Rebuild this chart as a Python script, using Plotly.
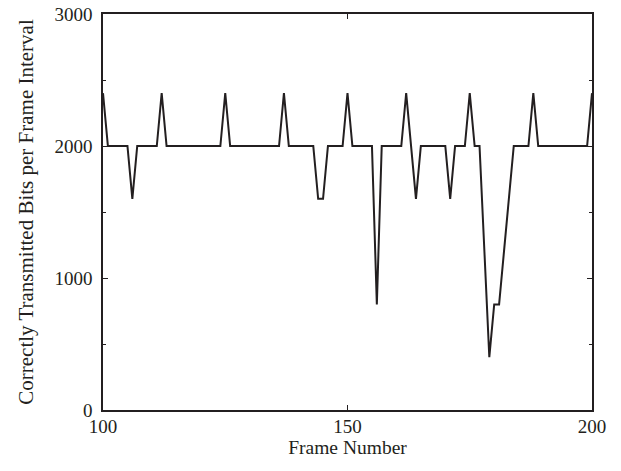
import plotly.graph_objects as go

# Frame indices and the bits delivered in each frame interval
frames = list(range(100, 201))
bits = [
    2400, 2000, 2000, 2000, 2000, 2000, 1600, 2000, 2000, 2000,  # 100-109
    2000, 2000, 2400, 2000, 2000, 2000, 2000, 2000, 2000, 2000,  # 110-119
    2000, 2000, 2000, 2000, 2000, 2400, 2000, 2000, 2000, 2000,  # 120-129
    2000, 2000, 2000, 2000, 2000, 2000, 2000, 2400, 2000, 2000,  # 130-139
    2000, 2000, 2000, 2000, 1600, 1600, 2000, 2000, 2000, 2000,  # 140-149
    2400, 2000, 2000, 2000, 2000, 2000, 800, 2000, 2000, 2000,   # 150-159
    2000, 2000, 2400, 2000, 1600, 2000, 2000, 2000, 2000, 2000,  # 160-169
    2000, 1600, 2000, 2000, 2000, 2400, 2000, 2000, 1200, 400,   # 170-179
    800, 800, 1200, 1600, 2000, 2000, 2000, 2000, 2400, 2000,    # 180-189
    2000, 2000, 2000, 2000, 2000, 2000, 2000, 2000, 2000, 2000,  # 190-199
    2400,                                                        # 200
]

x_ticks = [100, 150, 200]
y_ticks = [0, 1000, 2000, 3000]
y_minor = [500, 1500, 2500]

ink = "#231f20"
serif = "Liberation Serif, Times New Roman, serif"

fig = go.Figure(
    go.Scatter(
        x=frames,
        y=bits,
        mode="lines",
        line=dict(color=ink, width=2),
        hoverinfo="x+y",
    )
)

axis_common = dict(
    automargin=False,
    showline=True,
    linecolor=ink,
    linewidth=1.6,
    mirror="ticks",
    ticks="inside",
    tickcolor=ink,
    tickwidth=1.2,
    showgrid=False,
    zeroline=False,
    tickfont=dict(family=serif, size=19, color=ink),
)

fig.update_xaxes(
    range=[100, 200],
    tickvals=x_ticks,
    ticktext=[str(v) for v in x_ticks],
    ticklen=5,
    ticklabelstandoff=-2,
    title=dict(text="Frame Number", font=dict(family=serif, size=19.5, color=ink), standoff=0),
    **axis_common,
)
fig.update_yaxes(
    range=[0, 3000],
    tickvals=y_ticks,
    ticktext=[str(v) for v in y_ticks],
    ticklen=5,
    ticklabelstandoff=5,
    minor=dict(tickvals=y_minor, ticks="inside", ticklen=3, tickcolor=ink, tickwidth=1.2),
    title=dict(
        text="Correctly Transmitted Bits per Frame Interval",
        font=dict(family=serif, size=21, color=ink),
        standoff=15,
    ),
    **axis_common,
)

fig.update_layout(
    width=621,
    height=471,
    margin=dict(l=103, r=29, t=14, b=61),
    paper_bgcolor="white",
    plot_bgcolor="white",
    showlegend=False,
)

fig.write_html("out.html")
